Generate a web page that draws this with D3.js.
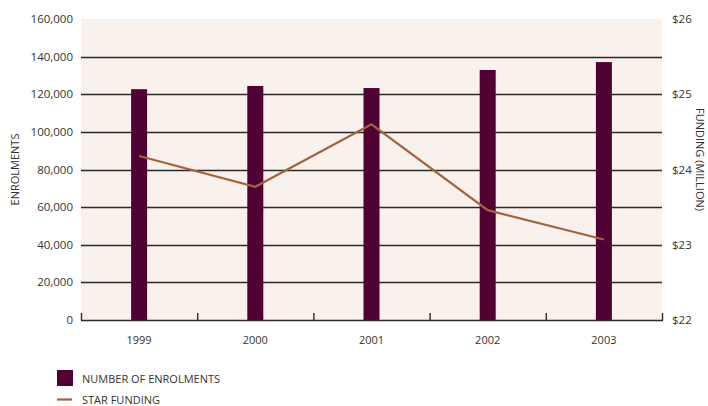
<!DOCTYPE html>
<html>
<head>
<meta charset="utf-8">
<script src="https://cdn.jsdelivr.net/npm/d3@7/dist/d3.min.js"></script>
<style>
  html, body { margin: 0; padding: 0; background: #ffffff; }
  svg { display: block; font-family: "Open Sans", "Noto Sans", sans-serif; }
</style>
</head>
<body>
<svg id="chart" width="708" height="406"></svg>
<script>
// Enrolments and STAR funding, 1999–2003
const years = ["1999", "2000", "2001", "2002", "2003"];
const enrolments = [122700, 124400, 123300, 132900, 137100];
const funding = [24.18, 23.77, 24.60, 23.46, 23.07];
const enrolTicks = [0, 20000, 40000, 60000, 80000, 100000, 120000, 140000, 160000];
const fundingTicks = [22, 23, 24, 25, 26];

const svg = d3.select("#chart");
const margin = { left: 81, right: 46, top: 19, bottom: 86 };
const W = 708, H = 406;
const x0 = margin.left, x1 = W - margin.right;
const y0 = H - margin.bottom, y1 = margin.top;

const x = d3.scaleBand().domain(years).range([x0, x1]);
const yL = d3.scaleLinear().domain([0, 160000]).range([y0, y1]);
const yR = d3.scaleLinear().domain([22, 26]).range([y0, y1]);

const barColor = "#510033";
const lineColor = "#a3643a";
const textColor = "#333333";

// plot background
svg.append("rect")
  .attr("x", x0).attr("y", y1)
  .attr("width", x1 - x0).attr("height", y0 - y1)
  .attr("fill", "#f9f1ec");

// horizontal gridlines
svg.append("g")
  .selectAll("line")
  .data(enrolTicks.filter(d => d > 0 && d < 160000))
  .join("line")
  .attr("x1", x0).attr("x2", x1)
  .attr("y1", d => Math.round(yL(d)) + 0.5).attr("y2", d => Math.round(yL(d)) + 0.5)
  .attr("stroke", "#2b2b2b").attr("stroke-width", 1.6);

// bars
const barW = 16;
svg.append("g")
  .selectAll("rect")
  .data(years)
  .join("rect")
  .attr("x", (d) => x(d) + x.bandwidth() / 2 - barW / 2)
  .attr("y", (d, i) => yL(enrolments[i]))
  .attr("width", barW)
  .attr("height", (d, i) => y0 - yL(enrolments[i]))
  .attr("fill", barColor);

// bottom axis line with category-boundary ticks
const axisG = svg.append("g");
axisG.append("line")
  .attr("x1", x0).attr("x2", x1 + 1)
  .attr("y1", y0 + 0.5).attr("y2", y0 + 0.5)
  .attr("stroke", "#2b2b2b").attr("stroke-width", 1.6);
const boundaries = years.map(d => x(d)).concat([x1]);
axisG.selectAll("line.tick")
  .data(boundaries)
  .join("line")
  .attr("class", "tick")
  .attr("x1", d => d + 0.5).attr("x2", d => d + 0.5)
  .attr("y1", y0 - 7).attr("y2", y0)
  .attr("stroke", "#2b2b2b").attr("stroke-width", 1.4);

// category labels
svg.append("g")
  .selectAll("text")
  .data(years)
  .join("text")
  .attr("x", d => x(d) + x.bandwidth() / 2)
  .attr("y", y0 + 24)
  .attr("text-anchor", "middle")
  .attr("font-size", 11)
  .attr("fill", textColor)
  .text(d => d);

// funding line
const line = d3.line()
  .x((d, i) => x(years[i]) + x.bandwidth() / 2)
  .y(d => yR(d));
svg.append("path")
  .datum(funding)
  .attr("d", line)
  .attr("fill", "none")
  .attr("stroke", lineColor)
  .attr("stroke-width", 2.2);

// left axis labels
const fmt = d3.format(",");
svg.append("g")
  .selectAll("text")
  .data(enrolTicks)
  .join("text")
  .attr("x", x0 - 8)
  .attr("y", d => yL(d) + 4)
  .attr("text-anchor", "end")
  .attr("font-size", 11.5)
  .attr("fill", textColor)
  .text(d => fmt(d));

// right axis labels
svg.append("g")
  .selectAll("text")
  .data(fundingTicks)
  .join("text")
  .attr("x", x1 + 10)
  .attr("y", d => yR(d) + 4)
  .attr("text-anchor", "start")
  .attr("font-size", 11.5)
  .attr("fill", textColor)
  .text(d => "$" + d);

// axis titles
svg.append("text")
  .attr("transform", `translate(19, ${(y0 + y1) / 2}) rotate(-90)`)
  .attr("text-anchor", "middle")
  .attr("font-size", 11)
  .attr("fill", textColor)
  .text("ENROLMENTS");
svg.append("text")
  .attr("transform", `translate(696, ${(y0 + y1) / 2 - 10}) rotate(90)`)
  .attr("text-anchor", "middle")
  .attr("font-size", 11)
  .attr("fill", textColor)
  .text("FUNDING (MILLION)");

// legend
const legend = svg.append("g");
legend.append("rect")
  .attr("x", 57).attr("y", 370).attr("width", 16).attr("height", 16)
  .attr("fill", barColor);
legend.append("text")
  .attr("x", 82).attr("y", 383)
  .attr("font-size", 11).attr("fill", textColor)
  .text("NUMBER OF ENROLMENTS");
legend.append("line")
  .attr("x1", 57).attr("x2", 72).attr("y1", 399.5).attr("y2", 399.5)
  .attr("stroke", lineColor).attr("stroke-width", 2.2);
legend.append("text")
  .attr("x", 82).attr("y", 404)
  .attr("font-size", 11).attr("fill", textColor)
  .text("STAR FUNDING");
</script>
</body>
</html>
